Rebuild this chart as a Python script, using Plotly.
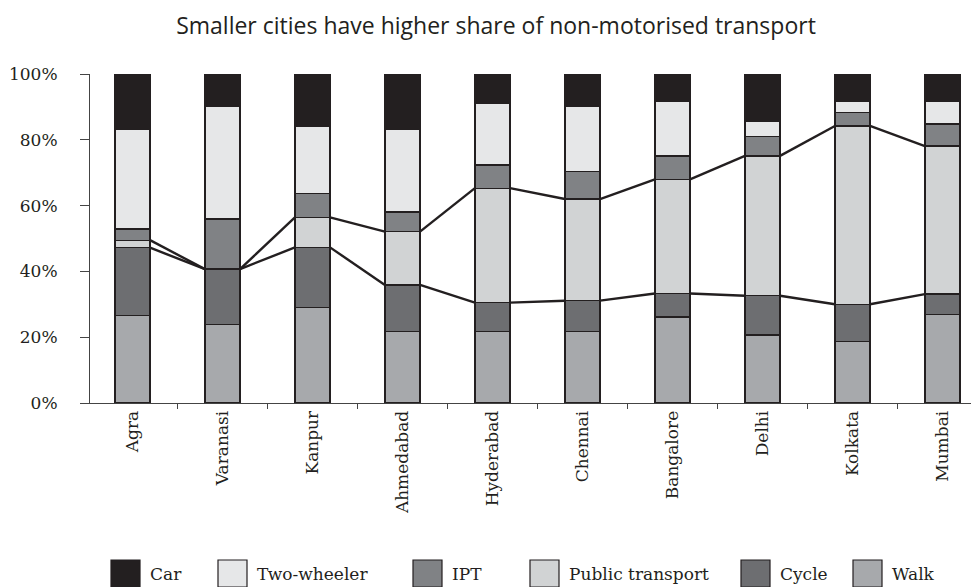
import numpy as np
import plotly.graph_objects as go

# ---------------- data ----------------
cities = ["Agra", "Varanasi", "Kanpur", "Ahmedabad", "Hyderabad",
          "Chennai", "Bangalore", "Delhi", "Kolkata", "Mumbai"]
walk = [26.7, 23.9, 29.0, 21.7, 21.7, 21.7, 26.1, 20.7, 18.8, 27.0]
cycle = [20.5, 16.8, 18.3, 14.2, 8.8, 9.4, 7.2, 11.9, 11.2, 6.1]
public_transport = [2.3, 0.0, 9.1, 16.2, 34.8, 30.9, 34.7, 42.5, 54.2, 45.0]
ipt = [3.4, 15.2, 7.3, 6.0, 7.0, 8.3, 7.1, 5.8, 4.0, 6.7]
two_wheeler = [30.3, 34.2, 20.5, 25.1, 18.8, 19.8, 16.7, 4.8, 3.6, 7.0]
car = [16.8, 9.9, 15.8, 16.8, 8.9, 9.9, 8.2, 14.3, 8.2, 8.2]
y_ticks = [0, 20, 40, 60, 80, 100]
y_tick_labels = ["0%", "20%", "40%", "60%", "80%", "100%"]
title_text = "Smaller cities have higher share of non-motorised transport"

# stacking order bottom -> top
series = [
    ("Walk", walk, "#a7a9ac"),
    ("Cycle", cycle, "#6d6e71"),
    ("Public transport", public_transport, "#d1d3d4"),
    ("IPT", ipt, "#808285"),
    ("Two-wheeler", two_wheeler, "#e6e7e8"),
    ("Car", car, "#231f20"),
]
legend_order = ["Car", "Two-wheeler", "IPT", "Public transport", "Cycle", "Walk"]

INK = "#231f20"
AXIS = "#444444"
BAR_W = 0.39
OFF = 8                      # page body margin offset
W, H = 979 - OFF, 587 - OFF
ML, MR, MT, MB = 90 - OFF, 0, 74 - OFF, H - (403 - OFF)
X_RANGE = [-0.472, 9.406]

fig = go.Figure()
for name, vals, col in series:
    fig.add_trace(go.Bar(
        x=cities, y=vals, name=name, width=BAR_W,
        marker=dict(color=col, line=dict(color=INK, width=1.3)),
        showlegend=False, hoverinfo="x+y+name",
    ))

# series lines: top of non-motorised (walk+cycle) and of walk+cycle+PT
nmt = np.array(walk) + np.array(cycle)
sust = nmt + np.array(public_transport)
idx = np.arange(len(cities))
for level in (nmt, sust):
    xs, ys = [], []
    for i in range(len(cities) - 1):
        xs += [idx[i] + BAR_W / 2, idx[i + 1] - BAR_W / 2, None]
        ys += [level[i], level[i + 1], None]
    fig.add_trace(go.Scatter(
        x=xs, y=ys, xaxis="x2", mode="lines",
        line=dict(color=INK, width=2.4), showlegend=False, hoverinfo="skip",
    ))

# manual legend (large swatches as in the reference)
plot_w = W - ML - MR
plot_h = H - MT - MB
def px_x(px):
    return (px - OFF - ML) / plot_w
def px_y(py):
    return (H - MB - (py - OFF)) / plot_h

colors = {n: c for n, _, c in series}
swatch_left = [111, 218, 413, 530, 741, 853]
for name, x0 in zip(legend_order, swatch_left):
    fig.add_shape(type="rect", xref="paper", yref="paper",
                  x0=px_x(x0), x1=px_x(x0 + 29), y0=px_y(587), y1=px_y(560),
                  fillcolor=colors[name], line=dict(color=INK, width=1.2))
    fig.add_annotation(xref="paper", yref="paper", x=px_x(x0 + 37), y=px_y(574),
                       text=name, showarrow=False, xanchor="left", yanchor="middle",
                       font=dict(family="DejaVu Serif", size=17, color=INK))

fig.update_layout(
    width=W, height=H,
    margin=dict(l=ML, r=MR, t=MT, b=MB),
    barmode="stack",
    plot_bgcolor="white", paper_bgcolor="white",
    title=dict(text=title_text, x=(496 - OFF) / W, xanchor="center",
               y=1 - (26 - OFF) / H, yanchor="middle", yref="container", xref="container",
               font=dict(family="Open Sans", size=23, color=INK)),
    xaxis=dict(type="category", range=X_RANGE, tickson="boundaries",
               ticks="outside", ticklen=5, tickcolor=AXIS, tickwidth=1,
               showline=True, linecolor=AXIS, linewidth=1,
               tickangle=-90, showgrid=False, zeroline=False,
               tickfont=dict(family="DejaVu Serif", size=17, color=INK)),
    xaxis2=dict(overlaying="x", range=X_RANGE, visible=False),
    yaxis=dict(range=[0, 100], tickvals=y_ticks, ticktext=y_tick_labels,
               ticks="outside", ticklen=9, tickcolor=AXIS, tickwidth=1,
               showline=True, linecolor=AXIS, linewidth=1,
               showgrid=False, zeroline=False, ticklabelstandoff=19,
               tickfont=dict(family="DejaVu Serif", size=17, color=INK)),
)

fig.write_html("out.html")
